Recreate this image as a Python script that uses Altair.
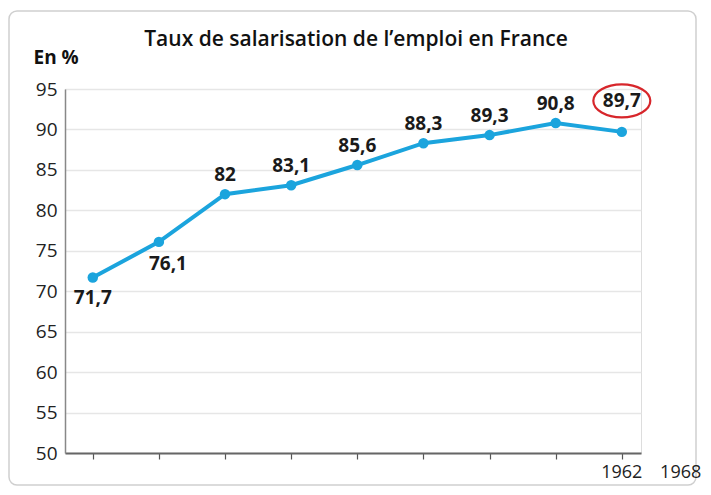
import altair as alt
import pandas as pd

# Data
positions = [0, 1, 2, 3, 4, 5, 6, 7, 8]
values = [71.7, 76.1, 82, 83.1, 85.6, 88.3, 89.3, 90.8, 89.7]
year_label_pos = [8, 8.89]
year_labels = ["1962", "1968"]
y_ticks = [50, 55, 60, 65, 70, 75, 80, 85, 90, 95]
title_text = "Taux de salarisation de l\u2019emploi en France"

FONT = "Open Sans"
BLUE = "#1ba4dd"
RED = "#d7262b"

df = pd.DataFrame({"i": positions, "v": values})
df_years = pd.DataFrame({"i": year_label_pos, "t": year_labels})
one = pd.DataFrame({"t": [title_text]})

W, H = 576, 364

xscale = alt.Scale(domain=[-0.42, 8.29], nice=False, zero=False)
yscale = alt.Scale(domain=[50, 95], nice=False, zero=False)

x = alt.X("i:Q", scale=xscale,
          axis=alt.Axis(values=positions, labels=False, grid=False, ticks=True,
                        tickSize=6, tickColor="#555", tickWidth=1.2,
                        domainColor="#666", domainWidth=2, title=None))
y = alt.Y("v:Q", scale=yscale,
          axis=alt.Axis(values=y_ticks, grid=True, gridColor="#e6e6e6", gridWidth=1.5,
                        ticks=False, domainColor="#888", domainWidth=1.5,
                        labelFont=FONT, labelFontSize=19, labelColor="#222",
                        labelPadding=8, title="En %", titleAngle=0,
                        titleAlign="left", titleBaseline="alphabetic",
                        titleX=-32, titleY=-26, titleFont=FONT, titleFontSize=19,
                        titleFontWeight="bold", titleColor="#111"))

base = alt.Chart(df)

border = alt.Chart(one).mark_rect(
    fill="white", fillOpacity=0, stroke="#cfcfcf", strokeWidth=1.5, cornerRadius=8
).encode(x=alt.value(-56), x2=alt.value(631), y=alt.value(-78), y2=alt.value(396))

line = base.mark_line(color=BLUE, strokeWidth=4).encode(x=x, y=y)
pts = base.mark_point(filled=True, color=BLUE, size=110, opacity=1).encode(x=x, y=y)

lab = base.transform_calculate(
    lbl="replace(format(datum.v, '.1~f'), '.', ',')"
)
txt_style = dict(font=FONT, fontSize=19, fontWeight="bold", color="#1a1a1a",
                 baseline="middle", align="center")

lab_below0 = lab.transform_filter("datum.i == 0").mark_text(dy=21, **txt_style).encode(
    x=alt.X("i:Q", scale=xscale), y=alt.Y("v:Q", scale=yscale), text="lbl:N")
lab_below1 = lab.transform_filter("datum.i == 1").mark_text(dy=22, dx=9, **txt_style).encode(
    x=alt.X("i:Q", scale=xscale), y=alt.Y("v:Q", scale=yscale), text="lbl:N")
lab_above = lab.transform_filter("datum.i >= 2 && datum.i <= 7").mark_text(dy=-19, **txt_style).encode(
    x=alt.X("i:Q", scale=xscale), y=alt.Y("v:Q", scale=yscale), text="lbl:N")
lab_last = lab.transform_filter("datum.i == 8").mark_text(dy=-31, **txt_style).encode(
    x=alt.X("i:Q", scale=xscale), y=alt.Y("v:Q", scale=yscale), text="lbl:N")

ellipse = base.transform_filter("datum.i == 8").mark_point(
    shape="M -1 0 A 1 0.58 0 1 1 1 0 A 1 0.58 0 1 1 -1 0",
    filled=False, stroke=RED, strokeWidth=2.2, size=3249, opacity=1, yOffset=-31
).encode(x=alt.X("i:Q", scale=xscale), y=alt.Y("v:Q", scale=yscale))

years = alt.Chart(df_years).mark_text(
    font=FONT, fontSize=18, color="#222", baseline="alphabetic", align="center"
).encode(x=alt.X("i:Q", scale=xscale), y=alt.value(389), text="t:N")

title = alt.Chart(one).mark_text(
    font=FONT, fontSize=21, fontWeight=600, color="#111", baseline="alphabetic", align="center"
).encode(x=alt.value(291), y=alt.value(-43), text="t:N")

chart = alt.layer(
    border, line, pts, lab_below0, lab_below1, lab_above, lab_last, ellipse, years, title
).properties(
    width=W, height=H,
    autosize=alt.AutoSizeParams(type="none"),
    padding={"left": 57, "top": 81, "right": 62, "bottom": 34},
).configure_view(stroke=None).configure(background="white")

chart.save("out.html", embed_options={"renderer": "svg", "actions": False})
